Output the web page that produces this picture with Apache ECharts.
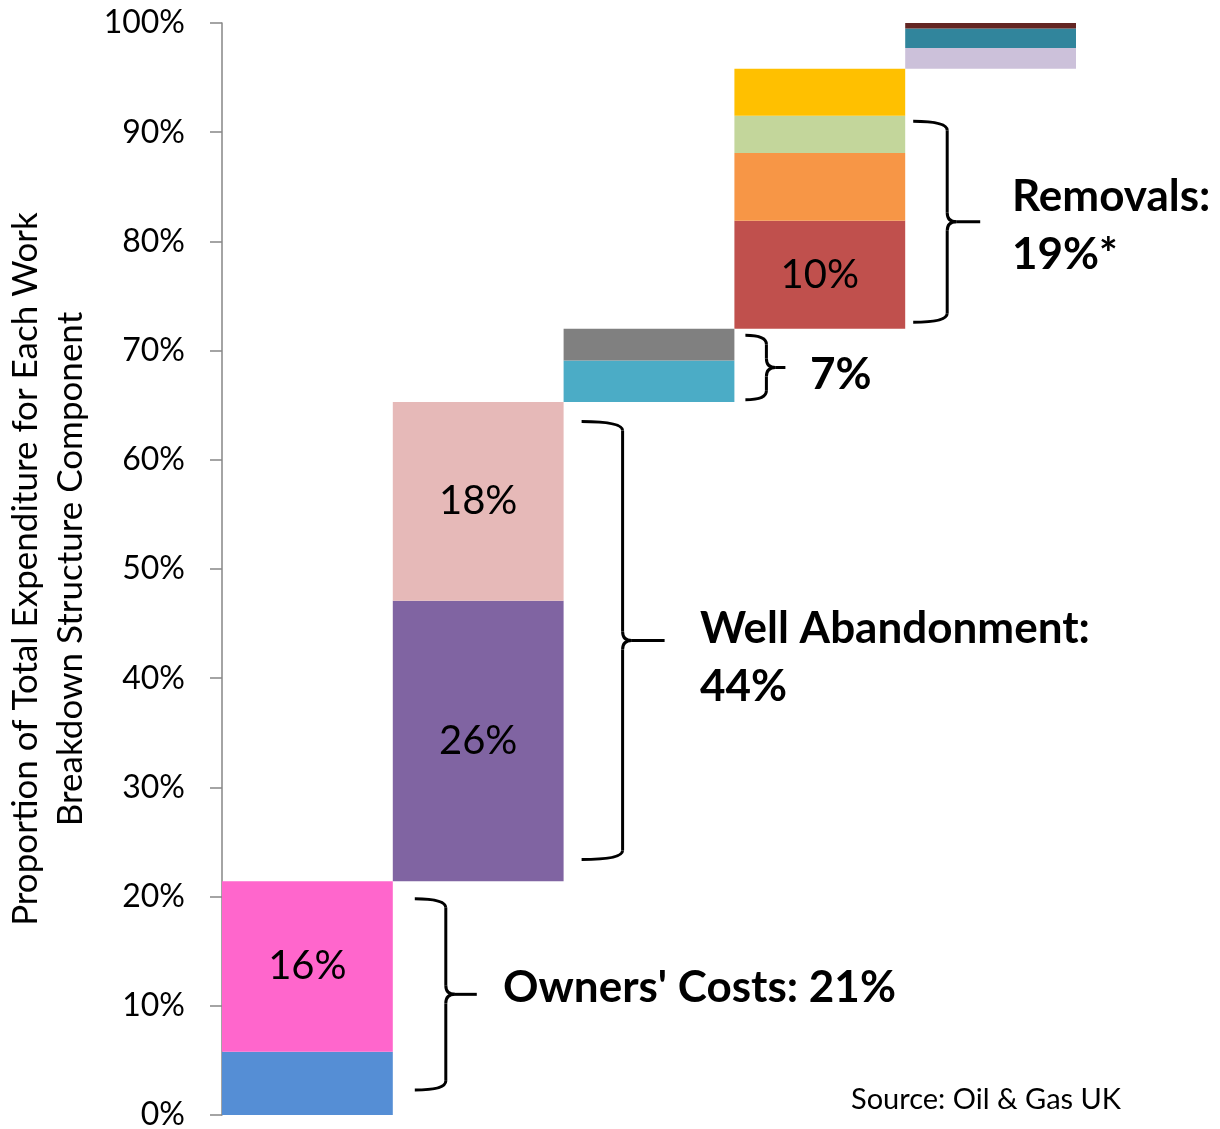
<!DOCTYPE html>
<html>
<head>
<meta charset="utf-8">
<script src="https://cdn.jsdelivr.net/npm/echarts@6.0.0/dist/echarts.min.js"></script>
<style>
  html, body { margin: 0; padding: 0; background: #fff; }
  #chart { width: 1220px; height: 1129px; }
</style>
</head>
<body>
<div id="chart"></div>
<script>
// --- data (percent of total expenditure) ---
const categories = ['Owners\' Costs', 'Well Abandonment', 'Facilities', 'Removals', 'Remediation'];
// stacked layers, bottom to top, one value per column
const layer1 = [5.8, 25.7, 3.8, 9.9, 1.9];
const layer2 = [15.6, 18.2, 2.9, 6.2, 1.8];
const layer3 = [0, 0, 0, 3.4, 0.5];
const layer4 = [0, 0, 0, 4.3, 0];
// labels printed inside the segments
const layer1Labels = ['', '26%', '', '10%', ''];
const layer2Labels = ['16%', '18%', '', '', ''];
const yTicks = [0, 10, 20, 30, 40, 50, 60, 70, 80, 90, 100];

// segment colours
const layer1Colors = ['#558ED5', '#8064A2', '#4BACC6', '#C0504D', '#CCC1DA'];
const layer2Colors = ['#FF66CC', '#E6B9B8', '#808080', '#F79646', '#31859C'];
const layer3Colors = ['#fff', '#fff', '#fff', '#C3D69B', '#632523'];
const layer4Colors = ['#fff', '#fff', '#fff', '#FFC000', '#fff'];

// invisible base = running total of the previous columns (waterfall)
const base = [];
let run = 0;
categories.forEach((c, i) => {
  base.push(Math.round(run * 10) / 10);
  run += layer1[i] + layer2[i] + layer3[i] + layer4[i];
});

const FONT = 'Lato, "Open Sans", sans-serif';

const makeLayer = (name, values, colors, labels) => ({
  name,
  type: 'bar',
  stack: 'total',
  barCategoryGap: 0,
  silent: true,
  data: values.map((v, i) => ({
    value: v,
    itemStyle: { color: colors[i] },
    label: {
      show: !!(labels && labels[i]),
      position: 'inside',
      formatter: labels ? labels[i] : '',
      color: '#000',
      fontFamily: FONT,
      fontSize: 40
    }
  }))
});

const chart = echarts.init(document.getElementById('chart'));

chart.setOption({
  animation: false,
  backgroundColor: '#fff',
  grid: { left: 222, right: 144, top: 23, bottom: 14, outerBoundsMode: 'none', containLabel: false },
  xAxis: {
    type: 'category',
    data: categories,
    show: false
  },
  yAxis: {
    type: 'value',
    min: yTicks[0],
    max: yTicks[yTicks.length - 1],
    interval: 10,
    name: 'Proportion of Total Expenditure for Each Work\nBreakdown Structure Component',
    nameLocation: 'middle',
    nameGap: 127,
    nameTextStyle: { color: '#000', fontFamily: FONT, fontSize: 35, lineHeight: 45 },
    axisLine: { show: true, lineStyle: { color: '#868686', width: 1.5 } },
    axisTick: { show: true, length: 12, lineStyle: { color: '#868686', width: 1.5 } },
    axisLabel: {
      color: '#000',
      fontFamily: FONT,
      fontSize: 32,
      margin: 37,
      formatter: '{value}%'
    },
    splitLine: { show: false }
  },
  series: [
    {
      name: 'base',
      type: 'bar',
      stack: 'total',
      barCategoryGap: 0,
      silent: true,
      itemStyle: { color: 'transparent' },
      data: base
    },
    makeLayer('layer1', layer1, layer1Colors, layer1Labels),
    makeLayer('layer2', layer2, layer2Colors, layer2Labels),
    makeLayer('layer3', layer3, layer3Colors),
    makeLayer('layer4', layer4, layer4Colors)
  ]
});

// --- braces and annotations ---
// y range in data units; x offsets in px from the bar's right edge
const braces = [
  { col: 0, from: 2.3, to: 19.8, arm: 22, depth: 31, tip: 31 },
  { col: 1, from: 23.4, to: 63.5, arm: 18, depth: 41, tip: 42 },
  { col: 2, from: 65.5, to: 71.4, arm: 11, depth: 21, tip: 19 },
  { col: 3, from: 72.6, to: 91.0, arm: 8, depth: 34, tip: 33 }
];

const bandW = (1220 - 222 - 144) / categories.length;
const braceStyle = { stroke: '#000', lineWidth: 3, fill: null };

const seg = (x1, y1, x2, y2) => ({
  type: 'line', silent: true,
  shape: { x1, y1, x2, y2 },
  style: braceStyle
});
const curve = (x1, y1, cx, cy, x2, y2) => ({
  type: 'bezierCurve', silent: true,
  shape: { x1, y1, x2, y2, cpx1: cx, cpy1: cy },
  style: braceStyle
});

function braceGroup(x0, xv, xt, y0, y1) {
  const ym = (y0 + y1) / 2;
  const r = 9;
  return {
    type: 'group',
    silent: true,
    children: [
      curve(x0, y0, xv, y0, xv, y0 + r),
      seg(xv, y0 + r, xv, ym - r),
      curve(xv, ym - r, xv, ym, xv + r, ym),
      seg(xv + r, ym, xt, ym),
      curve(xv + r, ym, xv, ym, xv, ym + r),
      seg(xv, ym + r, xv, y1 - r),
      curve(xv, y1 - r, xv, y1, x0, y1)
    ]
  };
}

const graphics = braces.map(b => {
  const cx = chart.convertToPixel({ xAxisIndex: 0 }, b.col);
  const right = cx + bandW / 2;
  const yTop = chart.convertToPixel({ yAxisIndex: 0 }, b.to);
  const yBot = chart.convertToPixel({ yAxisIndex: 0 }, b.from);
  const x0 = right + b.arm;
  const xv = x0 + b.depth;
  const xt = xv + b.tip;
  return braceGroup(x0, xv, xt, yTop, yBot);
});

const boldText = (x, y, text) => ({
  type: 'text',
  x, y,
  silent: true,
  style: {
    text,
    fill: '#000',
    font: 'bold 44px ' + FONT,
    lineHeight: 58,
    align: 'left',
    verticalAlign: 'middle'
  }
});

graphics.push(boldText(503, 988, 'Owners\' Costs: 21%'));
graphics.push(boldText(700, 658, 'Well Abandonment:\n44%'));
graphics.push(boldText(810, 375, '7%'));
graphics.push(boldText(1012, 226, 'Removals:\n19%*'));
graphics.push({
  type: 'text',
  x: 851, y: 1100,
  silent: true,
  style: {
    text: 'Source: Oil & Gas UK',
    fill: '#000',
    font: '29px ' + FONT,
    align: 'left',
    verticalAlign: 'middle'
  }
});

chart.setOption({ graphic: graphics });
</script>
</body>
</html>
